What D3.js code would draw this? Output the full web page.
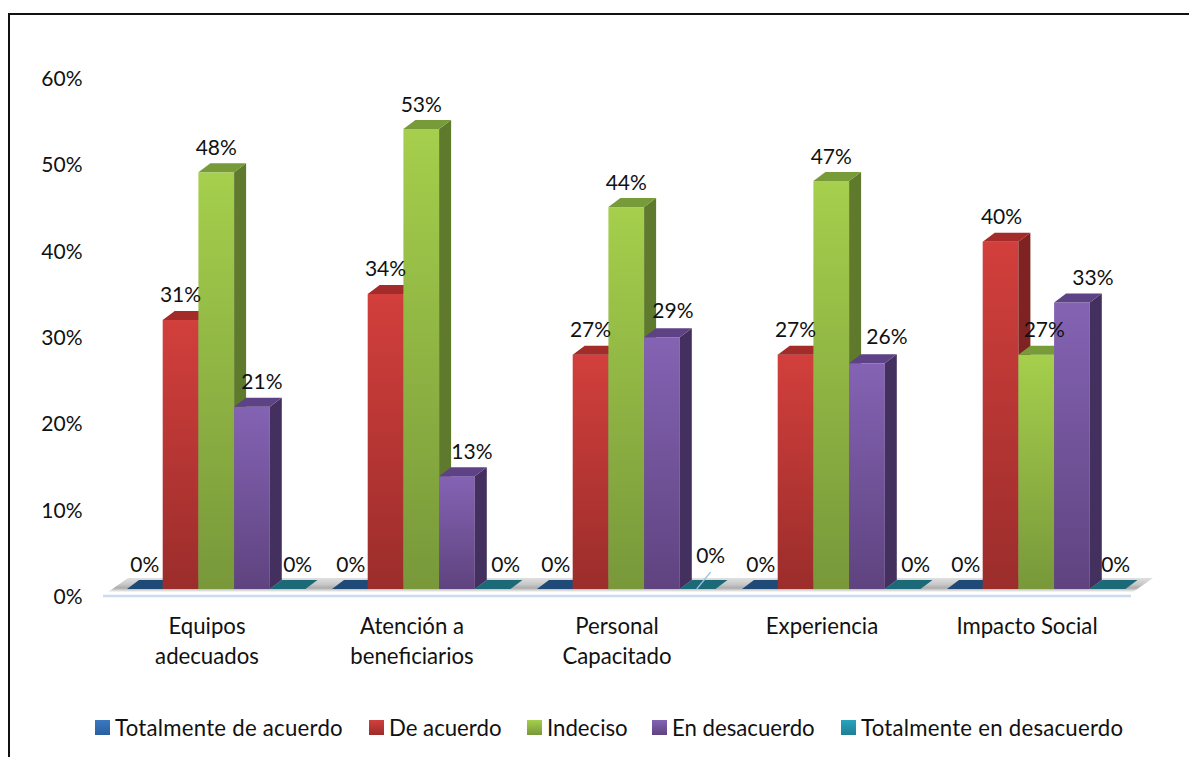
<!DOCTYPE html>
<html><head><meta charset="utf-8">
<script src="https://cdn.jsdelivr.net/npm/d3@7"></script>
<style>
html,body{margin:0;padding:0;background:#fff;overflow:hidden}
svg{display:block}
text{font-family:Lato,"Open Sans",sans-serif;font-size:21px;fill:#111}
text.word{font-size:22.2px}
</style></head><body>
<svg id="c" width="1189" height="757"></svg>
<script>
const categories=["Equipos adecuados","Atención a beneficiarios","Personal Capacitado","Experiencia","Impacto Social"];
const categoryLines=[["Equipos","adecuados"],["Atención a","beneficiarios"],["Personal","Capacitado"],["Experiencia"],["Impacto Social"]];
const seriesNames=["Totalmente de acuerdo","De acuerdo","Indeciso","En desacuerdo","Totalmente en desacuerdo"];
const totalmenteDeAcuerdo=[0,0,0,0,0];
const deAcuerdo=[31,34,27,27,40];
const indeciso=[48,53,44,47,27];
const enDesacuerdo=[21,13,29,26,33];
const totalmenteEnDesacuerdo=[0,0,0,0,0];
const seriesValues=[totalmenteDeAcuerdo,deAcuerdo,indeciso,enDesacuerdo,totalmenteEnDesacuerdo];
const yTicks=[0,10,20,30,40,50,60];
// styling
const palette=[
 {a:"#3a78c2",b:"#2a5f9e",top:"#1f4a78",side:"#1b3f66"},
 {a:"#d23f3c",b:"#9b2d2b",top:"#a32b29",side:"#7e2321"},
 {a:"#a5cf4c",b:"#78983a",top:"#779b38",side:"#5f7a2d"},
 {a:"#8463b4",b:"#5f437f",top:"#5d4285",side:"#43305f"},
 {a:"#2aa3bd",b:"#1e7f94",top:"#1c6a78",side:"#155663"}];
// data label nudges [dx,dy] from the default spot, per series per category
const labelNudge=[
 [[0,0],[1,0],[1,0],[1,0],[1,0]],
 [[0,0],[0,0],[0,0],[0,0],[1,0]],
 [[0,0],[0,0],[0,0],[0,0],[8,0]],
 [[10,0],[15,0],[11,-2],[20,-2],[21,0]],
 [[10,0],[13,0],[13,-9],[13,0],[8,0]]];
const legendSpacing=[0.25,0,0,0,0.25];
const dx=12,dy=9;

const svg=d3.select("#c");
const defs=svg.append("defs");
palette.forEach((p,i)=>{
 const g=defs.append("linearGradient").attr("id","g"+i).attr("x1",0).attr("x2",0).attr("y1",0).attr("y2",1);
 g.append("stop").attr("offset","0").attr("stop-color",p.a);
 g.append("stop").attr("offset","1").attr("stop-color",p.b);
});
const fg=defs.append("linearGradient").attr("id","floor").attr("x1",0).attr("x2",0).attr("y1",0).attr("y2",1);
[[0,"#e0e0e0"],[0.45,"#c8c8c8"],[0.72,"#acacac"],[1,"#fbfbfb"]].forEach(s=>fg.append("stop").attr("offset",s[0]).attr("stop-color",s[1]));

// outer frame
svg.append("path").attr("d","M9 757V14H1189").attr("fill","none").attr("stroke","#111").attr("stroke-width",2);

const y=d3.scaleLinear().domain([0,60]).range([589,68.2]);
const yAxisScale=d3.scaleLinear().domain([0,60]).range([596,78]);
const x0=d3.scaleBand().domain(categories).range([114.5,1139.5]);
const x1=d3.scaleBand().domain(seriesNames).range([12.5,191]);

// floor
svg.append("polygon").attr("points","108,592 128,578 1153,578 1133,592").attr("fill","url(#floor)");
svg.append("line").attr("x1",103).attr("x2",1131).attr("y1",596).attr("y2",596).attr("stroke","#cbdcf0").attr("stroke-width",2.5);

// y axis
const ya=svg.append("g").attr("transform","translate(82.5,0)")
 .call(d3.axisLeft(yAxisScale).tickValues(yTicks).tickFormat(d=>d+"%").tickSize(0).tickPadding(0));
ya.select(".domain").remove();
ya.selectAll("text").attr("dy","0.36em").style("font-size","21px").style("font-family","Lato");

// x axis
const xa=svg.append("g").attr("transform","translate(-10,612)")
 .call(d3.axisBottom(x0).tickSize(0).tickPadding(0).tickFormat(""));
xa.select(".domain").remove();
xa.selectAll(".tick").each(function(d,i){
 const t=d3.select(this).select("text").attr("y",0).attr("dy",null).attr("text-anchor","middle");
 t.style("font-size","22.2px").style("font-family","Lato");
 categoryLines[i].forEach((l,k)=>t.append("tspan").attr("x",0).attr("y",22+k*30).text(l));
});

// bars
categories.forEach((c,ci)=>{
 const g=svg.append("g");
 seriesNames.forEach((s,si)=>{
  const v=seriesValues[si][ci];
  const l=x0(c)+x1(s),w=x1.bandwidth(),r=l+w,t=y(v),b=y(0),p=palette[si];
  if(v>0){
   g.append("rect").attr("x",l).attr("y",t).attr("width",w).attr("height",b-t).attr("fill","url(#g"+si+")");
   g.append("polygon").attr("points",[[r,t],[r+dx,t-dy],[r+dx,b-dy],[r,b]].join(" ")).attr("fill",p.side);
  }
  g.append("polygon").attr("points",[[l,t],[l+dx,t-dy],[r+dx,t-dy],[r,t]].join(" ")).attr("fill",p.top);
 });
});

// leader line on the third category
const leadX=x0(categories[2])+x1(seriesNames[4])+x1.bandwidth()/2;
svg.append("line").attr("x1",leadX-1).attr("y1",y(0)).attr("x2",leadX+13).attr("y2",y(0)-17).attr("stroke","#9cc0e6").attr("stroke-width",1.2);

// data labels
categories.forEach((c,ci)=>{
 seriesNames.forEach((s,si)=>{
  const v=seriesValues[si][ci],n=labelNudge[si][ci];
  svg.append("text").attr("text-anchor","middle")
   .attr("x",x0(c)+x1(s)+x1.bandwidth()/2+n[0])
   .attr("y",y(v)-25+n[1]).attr("dy","0.36em").text(v+"%");
 });
});

// legend
const legendX=d3.scaleOrdinal().domain(seriesNames).range([95,369,527,652,841]);
const lg=svg.append("g").selectAll("g").data(seriesNames).join("g").attr("transform",d=>`translate(${legendX(d)},720)`);
lg.append("rect").attr("width",15).attr("height",15).attr("fill",(d,i)=>"url(#g"+i+")");
lg.append("text").attr("class","word").attr("x",20).attr("y",7.5).attr("dy","0.36em").style("letter-spacing",(d,i)=>legendSpacing[i]+"px").text(d=>d);
</script>
</body></html>
